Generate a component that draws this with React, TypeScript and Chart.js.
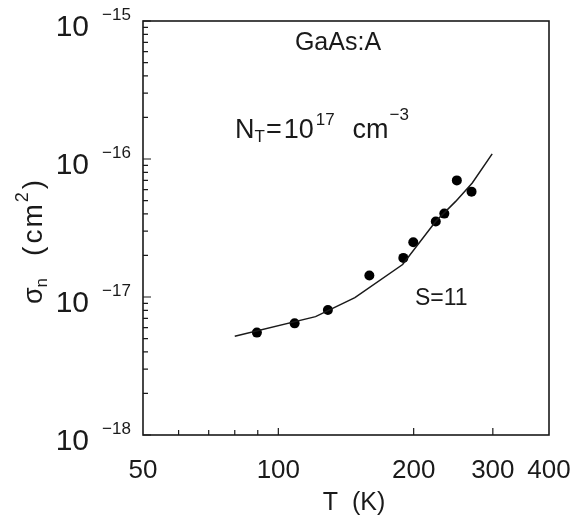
import React, { useEffect, useRef } from "react";
import { Chart, registerables } from "chart.js";

Chart.register(...registerables);

// Measured points: temperature (K) and capture cross-section (cm^2)
const tempData = [89.6, 108.7, 128.9, 159.4, 189.7, 199.6, 224, 234, 249.5, 269];
const sigmaData = [5.52e-18, 6.44e-18, 8.04e-18, 1.43e-17, 1.92e-17, 2.49e-17, 3.52e-17, 4.02e-17, 7.0e-17, 5.8e-17];

// Fitted curve (S = 11)
const fitTemp = [80, 121, 148, 189, 224, 248, 270, 299];
const fitSigma = [5.19e-18, 7.21e-18, 9.88e-18, 1.72e-17, 3.54e-17, 4.93e-17, 6.7e-17, 1.09e-16];

// Axis ticks
const xLabelTicks = [50, 100, 200, 300, 400];
const xMajorTicks = [100, 200, 300];
const xMinorTicks = [60, 70, 80, 90];
const yDecades = [1e-18, 1e-17, 1e-16, 1e-15];
const yExponents = ["\u221218", "\u221217", "\u221216", "\u221215"];
const yMinorMultipliers = [2, 3, 4, 5, 6, 7, 8, 9];

const FONT = "'Liberation Sans', Arial, sans-serif";
const INK = "#1a1a1a";

type Run = { t: string; size: number; dy?: number; gap?: number };

function drawRuns(ctx: CanvasRenderingContext2D, runs: Run[], x: number, y: number, align: "left" | "center" | "right") {
  let total = 0;
  const widths: number[] = [];
  for (const r of runs) {
    ctx.font = `${r.size}px ${FONT}`;
    const w = ctx.measureText(r.t).width;
    widths.push(w);
    total += w + (r.gap || 0);
  }
  let cx = align === "left" ? x : align === "center" ? x - total / 2 : x - total;
  ctx.textAlign = "left";
  ctx.textBaseline = "alphabetic";
  runs.forEach((r, i) => {
    cx += r.gap || 0;
    ctx.font = `${r.size}px ${FONT}`;
    ctx.fillText(r.t, cx, y + (r.dy || 0));
    cx += widths[i];
  });
}

const framePlugin = {
  id: "framePlugin",
  afterDraw(chart: any) {
    const ctx: CanvasRenderingContext2D = chart.ctx;
    const { left, right, top, bottom } = chart.chartArea;
    const xs = chart.scales.x;
    const ys = chart.scales.y;
    ctx.save();
    ctx.strokeStyle = INK;
    ctx.fillStyle = INK;
    ctx.lineWidth = 1.6;
    ctx.strokeRect(left, top, right - left, bottom - top);

    // x ticks (inward)
    ctx.lineWidth = 1.2;
    ctx.beginPath();
    xMajorTicks.forEach((v) => {
      const px = xs.getPixelForValue(v);
      ctx.moveTo(px, bottom);
      ctx.lineTo(px, bottom - 7);
    });
    xMinorTicks.forEach((v) => {
      const px = xs.getPixelForValue(v);
      ctx.moveTo(px, bottom);
      ctx.lineTo(px, bottom - 5);
    });
    // y ticks (inward)
    yDecades.forEach((d, i) => {
      const py = ys.getPixelForValue(d);
      ctx.moveTo(left, py);
      ctx.lineTo(left + 8, py);
      if (i < yDecades.length - 1) {
        yMinorMultipliers.forEach((m) => {
          const p = ys.getPixelForValue(d * m);
          ctx.moveTo(left, p);
          ctx.lineTo(left + 5, p);
        });
      }
    });
    ctx.stroke();

    // x labels
    ctx.font = `26px ${FONT}`;
    ctx.textAlign = "center";
    ctx.textBaseline = "alphabetic";
    xLabelTicks.forEach((v) => {
      ctx.fillText(String(v), xs.getPixelForValue(v), bottom + 43);
    });

    // y labels 10^n
    yDecades.forEach((d, i) => {
      const py = ys.getPixelForValue(d);
      ctx.font = `30px ${FONT}`;
      ctx.textAlign = "right";
      ctx.fillText("10", left - 54, py + 15);
      ctx.font = `17px ${FONT}`;
      ctx.textAlign = "left";
      ctx.fillText(yExponents[i], left - 41, py - 1);
    });

    // x title
    ctx.font = `25px ${FONT}`;
    ctx.textAlign = "center";
    ctx.fillText("T  (K)", (left + right) / 2 + 8, bottom + 75);

    // y title (rotated)
    ctx.save();
    ctx.translate(42, 242);
    ctx.rotate(-Math.PI / 2);
    drawRuns(
      ctx,
      [
        { t: "\u03c3", size: 27 },
        { t: "n", size: 17, dy: 5 },
        { t: "(", size: 28, gap: 22 },
        { t: "c", size: 28, gap: 3 },
        { t: "m", size: 28, gap: 2 },
        { t: "2", size: 18, dy: -14, gap: 2 },
        { t: ")", size: 28, gap: 3 },
      ],
      0,
      0,
      "center"
    );
    ctx.restore();

    // annotations
    ctx.font = `25px ${FONT}`;
    ctx.textAlign = "center";
    ctx.fillText("GaAs:A", 338, 50);

    drawRuns(
      ctx,
      [
        { t: "N", size: 27 },
        { t: "T", size: 17, dy: 4 },
        { t: "=", size: 27, gap: 1 },
        { t: "10", size: 27, gap: 2 },
        { t: "17", size: 17, dy: -13, gap: 2 },
        { t: "cm", size: 27, gap: 18 },
        { t: "\u22123", size: 17, dy: -18, gap: 1 },
      ],
      235,
      138,
      "left"
    );

    ctx.font = `23px ${FONT}`;
    ctx.textAlign = "left";
    ctx.fillText("S=11", 415, 305);
    ctx.restore();
  },
};

export default function App() {
  const canvasRef = useRef<HTMLCanvasElement | null>(null);

  useEffect(() => {
    if (!canvasRef.current) return;
    const chart = new Chart(canvasRef.current, {
      type: "scatter",
      data: {
        datasets: [
          {
            type: "line",
            data: fitTemp.map((t, i) => ({ x: t, y: fitSigma[i] })),
            borderColor: INK,
            borderWidth: 1.5,
            pointRadius: 0,
            fill: false,
            tension: 0,
          } as any,
          {
            type: "scatter",
            data: tempData.map((t, i) => ({ x: t, y: sigmaData[i] })),
            backgroundColor: "#000",
            borderWidth: 0,
            pointRadius: 5,
          } as any,
        ],
      },
      options: {
        responsive: false,
        animation: false,
        layout: { padding: { left: 143, right: 33, top: 21, bottom: 86 } },
        plugins: { legend: { display: false }, tooltip: { enabled: false } },
        scales: {
          x: { type: "logarithmic", min: 50, max: 400, display: false },
          y: { type: "logarithmic", min: 1e-18, max: 1e-15, display: false },
        },
      },
      plugins: [framePlugin],
    });
    return () => chart.destroy();
  }, []);

  return (
    <div style={{ position: "absolute", left: 0, top: 0, width: 582, height: 521, background: "#fff" }}>
      <canvas ref={canvasRef} width={582} height={521} style={{ width: 582, height: 521 }} />
    </div>
  );
}
